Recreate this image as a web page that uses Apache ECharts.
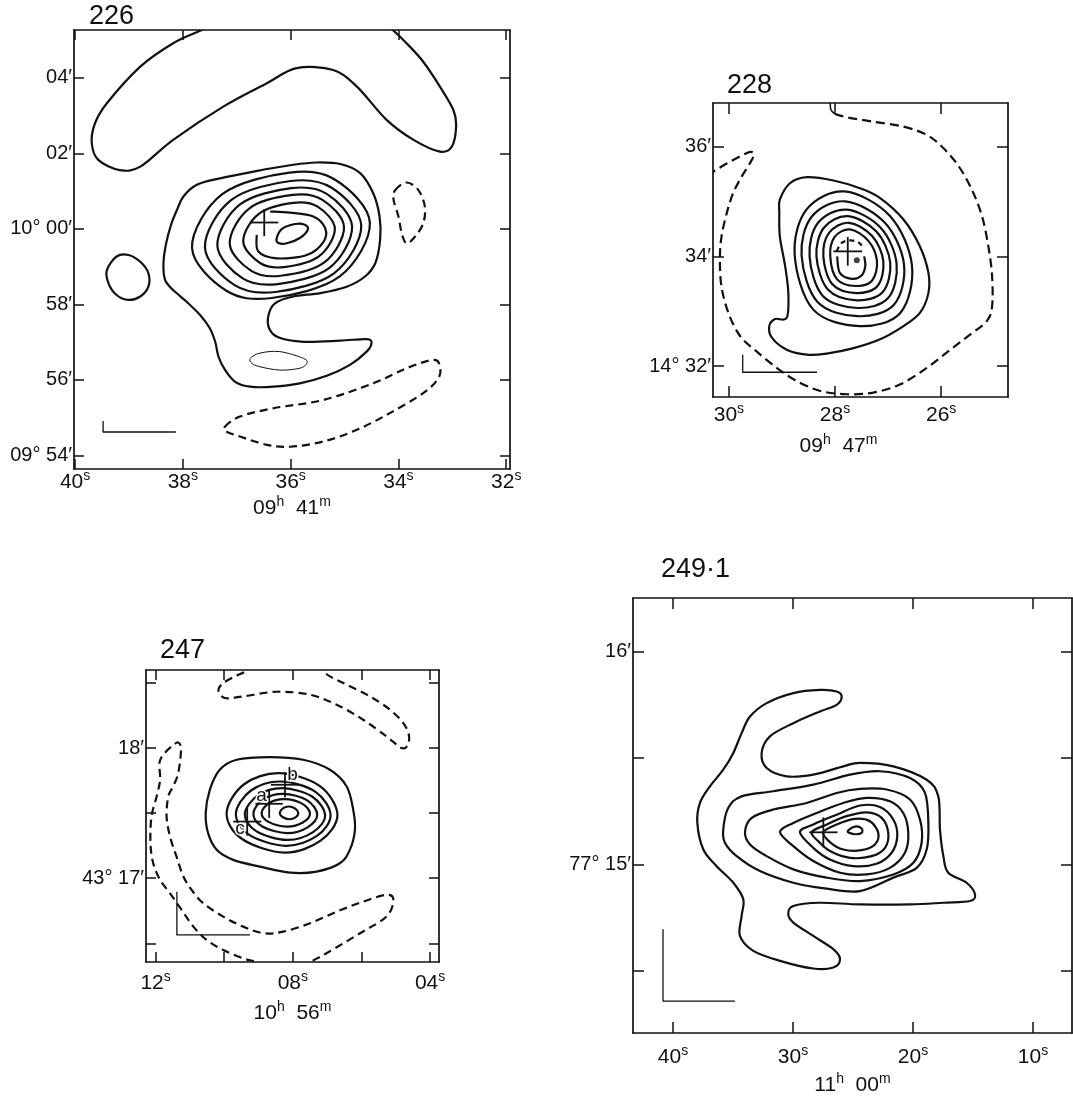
<!DOCTYPE html>
<html><head><meta charset="utf-8">
<script src="https://cdn.jsdelivr.net/npm/echarts@6/dist/echarts.min.js"></script>
<style>html,body{margin:0;padding:0;background:#fff}#c{width:1073px;height:1097px}</style>
</head><body><div id="c"></div>
<script>
// ================= DATA =================
// ---- panel 226 (RA seconds of 09h41m, Dec arcmin relative to +10°00') ----
const p226XTicks = [40, 38, 36, 34, 32];
const p226XLabels = ['40', '38', '36', '34', '32'];
const p226YTicks = [4, 2, 0, -2, -4, -6];
const p226YLabels = ['04′', '02′', '10° 00′', '58′', '56′', '09° 54′'];
const p226TopArch = [[37.45,5.42],[37.68,5.25],[38.18,4.92],[38.79,4.30],[39.41,3.33],[39.63,2.80],[39.69,2.27],[39.57,1.83],[39.17,1.56],[38.79,1.65],[38.18,2.36],[37.25,3.24],[36.44,3.86],[35.89,4.26],[35.21,4.21],[34.77,3.77],[34.22,2.89],[33.72,2.36],[33.23,2.05],[33.01,2.18],[32.93,2.71],[32.98,3.15],[33.23,3.77],[33.54,4.43],[33.85,4.92],[34.09,5.25],[34.25,5.42]];
const p226LeftLoop = [[39.41,-1.09],[39.23,-0.73],[39.01,-0.69],[38.79,-0.87],[38.64,-1.17],[38.64,-1.53],[38.79,-1.79],[39.01,-1.88],[39.23,-1.75],[39.38,-1.44]];
const p226RightNeg = [[34.06,1.03],[33.85,1.23],[33.63,1.03],[33.51,0.59],[33.54,0.15],[33.69,-0.20],[33.85,-0.38],[33.94,-0.11],[34.00,0.33],[34.09,0.77]];
const p226LowerNeg = [[37.22,-5.24],[36.94,-4.97],[36.32,-4.75],[35.39,-4.53],[34.47,-4.09],[33.85,-3.69],[33.35,-3.47],[33.23,-3.65],[33.26,-3.96],[33.54,-4.35],[34.16,-4.88],[34.77,-5.32],[35.39,-5.63],[36.01,-5.77],[36.44,-5.72],[36.94,-5.50],[37.19,-5.37]];
const p226ThinLoop = [[36.75,-3.43],[36.57,-3.29],[36.20,-3.25],[35.76,-3.43],[35.70,-3.56],[35.83,-3.69],[36.20,-3.74],[36.57,-3.65],[36.72,-3.56]];
const p226Outer = [[37.74,1.17],[37.31,1.34],[36.69,1.52],[35.95,1.70],[35.52,1.76],[35.08,1.72],[34.71,1.48],[34.47,0.95],[34.35,0.33],[34.34,-0.29],[34.43,-0.91],[34.62,-1.26],[34.96,-1.53],[35.45,-1.70],[35.95,-1.79],[36.29,-1.97],[36.41,-2.28],[36.40,-2.63],[36.23,-2.87],[35.76,-2.99],[35.08,-2.96],[34.59,-2.92],[34.50,-3.03],[34.59,-3.25],[34.90,-3.60],[35.33,-3.89],[35.83,-4.09],[36.32,-4.18],[36.75,-4.18],[37.03,-4.05],[37.22,-3.73],[37.34,-3.38],[37.40,-2.99],[37.50,-2.63],[37.68,-2.28],[37.93,-1.93],[38.18,-1.62],[38.33,-1.35],[38.36,-0.91],[38.31,-0.38],[38.21,0.15],[38.11,0.50],[37.99,0.86]];
const p226Ring6 = [[34.53,0.16],[35.16,1.29],[36.02,1.49],[37.27,0.92],[37.83,-0.50],[37.20,-1.63],[36.35,-1.83],[35.09,-1.26]];
const p226Ring5 = [[34.69,0.09],[35.24,1.09],[36.00,1.27],[37.10,0.77],[37.59,-0.49],[37.04,-1.49],[36.28,-1.67],[35.19,-1.17]];
const p226Ring4 = [[34.86,0.06],[35.33,0.93],[35.99,1.08],[36.94,0.65],[37.36,-0.44],[36.89,-1.31],[36.24,-1.46],[35.28,-1.03]];
const p226Ring3 = [[35.01,0.05],[35.41,0.77],[35.96,0.90],[36.77,0.54],[37.13,-0.39],[36.73,-1.11],[36.18,-1.24],[35.37,-0.88]];
const p226Ring2 = [[35.18,0.01],[35.50,0.59],[35.95,0.69],[36.59,0.40],[36.88,-0.33],[36.56,-0.91],[36.12,-1.01],[35.47,-0.72]];
const p226Ring1 = [[36.63,-0.16],[36.60,-0.60],[36.26,-0.78],[35.70,-0.69],[35.39,-0.34],[35.36,0.02],[35.58,0.33],[36.01,0.43],[36.38,0.46]];
const p226Peak = [[36.26,-0.25],[36.16,0.00],[35.92,0.13],[35.75,0.12],[35.68,-0.01],[35.83,-0.24],[36.07,-0.38],[36.23,-0.37]];
const p226Beam = [[39.48,-5.09],[39.48,-5.38],[38.13,-5.38]];
const p226Cross = [[36.49, 0.17, 0.26, 0.36]];

// ---- panel 228 (RA seconds of 09h47m, Dec arcmin of +14°) ----
const p228XTicks = [30, 28, 26];
const p228XLabels = ['30', '28', '26'];
const p228YTicks = [36, 34, 32];
const p228YLabels = ['36′', '34′', '14° 32′'];
const p228Neg = [[30.40,35.48],[30.28,35.55],[30.04,35.69],[29.79,35.82],[29.60,35.90],[29.53,35.85],[29.60,35.70],[29.76,35.45],[29.92,35.15],[30.04,34.79],[30.14,34.36],[30.17,33.94],[30.14,33.45],[30.01,32.97],[29.79,32.55],[29.48,32.27],[29.10,31.97],[28.72,31.73],[28.28,31.55],[27.78,31.49],[27.28,31.52],[26.77,31.67],[26.27,31.97],[25.83,32.30],[25.45,32.58],[25.14,32.82],[25.04,33.09],[25.04,33.64],[25.11,34.18],[25.23,34.73],[25.42,35.21],[25.67,35.64],[25.96,35.97],[26.27,36.21],[26.71,36.36],[27.28,36.45],[27.78,36.53],[28.00,36.59]];
const p228Hook = [[28.09,36.85],[28.08,36.67],[28.00,36.59]];
const p228Outer = [[29.04,35.03],[28.85,35.33],[28.53,35.44],[28.03,35.38],[27.53,35.24],[27.15,35.06],[26.71,34.67],[26.40,34.18],[26.24,33.70],[26.24,33.33],[26.40,32.97],[26.71,32.73],[27.15,32.49],[27.65,32.33],[28.16,32.23],[28.53,32.21],[28.91,32.30],[29.19,32.52],[29.24,32.73],[29.13,32.86],[28.91,32.88],[28.88,33.33],[28.94,33.82],[29.04,34.36],[29.05,34.79]];
const p228Ring6 = [[27.82,35.18],[26.96,34.73],[26.55,33.83],[26.77,32.97],[27.54,32.73],[28.41,33.03],[28.76,34.02],[28.54,34.85]];
const p228Ring5 = [[27.81,35.00],[27.06,34.61],[26.70,33.85],[26.89,33.12],[27.57,32.91],[28.33,33.17],[28.63,34.01],[28.44,34.72]];
const p228Ring4 = [[27.78,34.85],[27.14,34.52],[26.84,33.87],[27.00,33.24],[27.58,33.06],[28.23,33.28],[28.48,34.00],[28.32,34.61]];
const p228Ring3 = [[27.76,34.73],[27.22,34.45],[26.96,33.89],[27.10,33.35],[27.59,33.20],[28.13,33.39],[28.35,34.00],[28.21,34.52]];
const p228Ring2 = [[27.74,34.61],[27.30,34.37],[27.09,33.91],[27.20,33.46],[27.60,33.33],[28.05,33.49],[28.22,34.00],[28.11,34.43]];
const p228Ring1 = [[27.72,34.49],[27.38,34.29],[27.21,33.92],[27.30,33.56],[27.61,33.46],[27.96,33.58],[28.09,34.00],[28.01,34.35]];
const p228PeakLow = [[27.96,34.00],[27.91,33.70],[27.68,33.59],[27.50,33.65],[27.43,33.82],[27.45,34.00]];
const p228PeakTop = [[27.97,34.09],[27.88,34.24],[27.72,34.29],[27.55,34.25],[27.47,34.15]];
const p228Beam = [[29.74,32.21],[29.74,31.89],[28.34,31.89]];
const p228Cross = [[27.76, 34.09, 0.27, 0.26]];
const p228Dot = [[27.59, 33.93]];

// ---- panel 247 (RA seconds of 10h56m, Dec arcmin of +43°) ----
const p247XTicks = [12, 10, 8, 6, 4];
const p247XLabels = ['12', '', '08', '', '04'];
const p247YTicks = [18.5, 18, 17.5, 17, 16.5];
const p247YLabels = ['', '18′', '', '43° 17′', ''];
const p247TopNeg = [[9.20,18.66],[9.35,18.595],[9.69,18.551],[10.03,18.50],[10.17,18.443],[9.98,18.385],[9.45,18.397],[8.47,18.433],[7.50,18.41],[6.72,18.333],[5.95,18.218],[5.27,18.089],[4.83,18.00],[4.65,18.025],[4.62,18.102],[4.78,18.192],[5.17,18.295],[5.75,18.397],[6.43,18.487],[6.92,18.551],[7.11,18.595],[7.25,18.66]];
const p247SideNeg = [[8.85,16.30],[9.06,16.354],[9.45,16.384],[10.03,16.448],[10.51,16.525],[10.90,16.628],[11.24,16.756],[11.58,16.884],[11.87,16.987],[12.07,17.115],[12.15,17.269],[12.12,17.474],[11.97,17.628],[11.87,17.756],[11.89,17.885],[11.78,17.948],[11.53,18.013],[11.34,18.043],[11.26,17.987],[11.34,17.808],[11.49,17.705],[11.63,17.628],[11.68,17.474],[11.58,17.320],[11.39,17.166],[11.19,17.013],[10.95,16.910],[10.61,16.807],[10.03,16.705],[9.45,16.628],[8.86,16.577],[8.28,16.589],[7.50,16.654],[6.72,16.743],[5.95,16.820],[5.27,16.872],[5.07,16.833],[5.27,16.705],[6.04,16.577],[7.02,16.423],[7.50,16.354],[7.75,16.30]];
const p247Outer = [[10.13,17.833],[9.64,17.910],[8.67,17.931],[7.70,17.910],[6.92,17.833],[6.43,17.705],[6.24,17.525],[6.19,17.372],[6.34,17.218],[6.63,17.115],[7.31,17.051],[8.08,17.043],[8.96,17.089],[9.74,17.141],[10.22,17.218],[10.47,17.346],[10.54,17.500],[10.42,17.679]];
const p247Ring5 = [[8.40,17.807],[7.22,17.709],[6.70,17.487],[7.19,17.288],[8.24,17.197],[9.48,17.301],[9.93,17.502],[9.42,17.722]];
const p247Ring4 = [[8.35,17.743],[7.34,17.664],[6.90,17.484],[7.31,17.323],[8.21,17.249],[9.27,17.333],[9.66,17.496],[9.22,17.674]];
const p247Ring3 = [[8.29,17.692],[7.44,17.628],[7.06,17.483],[7.41,17.354],[8.17,17.294],[9.07,17.362],[9.40,17.493],[9.02,17.636]];
const p247Ring2 = [[8.27,17.648],[7.59,17.600],[7.29,17.489],[7.57,17.391],[8.17,17.346],[8.89,17.397],[9.15,17.497],[8.86,17.606]];
const p247Ring1 = [[8.24,17.607],[7.73,17.573],[7.50,17.497],[7.71,17.428],[8.17,17.397],[8.71,17.433],[8.91,17.502],[8.69,17.578]];
const p247Peak = [[8.12,17.551],[7.93,17.535],[7.84,17.500],[7.92,17.468],[8.10,17.453],[8.30,17.470],[8.38,17.502],[8.29,17.537]];
const p247Beam = [[11.38,16.895],[11.38,16.564],[9.25,16.564]];
const p247Cross = [[8.23,17.718,0.41,0.096],[8.69,17.572,0.40,0.108],[9.33,17.435,0.41,0.108]];
const p247Letters = ['a', 'b', 'c'];
const p247LetterPos = [[8.91,17.635],[8.01,17.795],[9.54,17.38]];

// ---- panel 249.1 (RA seconds of 11h00m, Dec arcmin of +77°) ----
const p249XTicks = [40, 30, 20, 10];
const p249XLabels = ['40', '30', '20', '10'];
const p249YTicks = [16, 15.5, 15, 14.5];
const p249YLabels = ['16′', '', '77° 15′', ''];
const p249Outer = [[25.94,15.789],[26.36,15.750],[27.75,15.719],[29.97,15.664],[31.92,15.602],[32.61,15.524],[32.19,15.453],[30.53,15.414],[28.31,15.422],[25.81,15.461],[24.42,15.477],[21.64,15.461],[18.86,15.398],[17.89,15.320],[17.75,15.164],[17.47,15.039],[17.06,14.961],[15.53,14.914],[14.83,14.859],[15.25,14.828],[17.47,14.820],[20.25,14.812],[24.42,14.812],[27.75,14.820],[29.97,14.805],[30.39,14.766],[29.97,14.727],[28.31,14.664],[26.64,14.602],[26.08,14.555],[26.64,14.516],[28.31,14.511],[31.08,14.547],[33.31,14.594],[34.42,14.664],[34.28,14.758],[34.14,14.836],[34.97,14.914],[36.36,14.992],[37.47,15.070],[37.97,15.195],[37.75,15.289],[36.92,15.367],[35.81,15.445],[34.97,15.524],[34.28,15.617],[33.58,15.695],[32.19,15.758],[29.97,15.805],[27.75,15.820],[26.36,15.813]];
const p249RingA = [[35.81,15.164],[35.39,15.266],[34.28,15.320],[31.64,15.344],[28.31,15.375],[25.25,15.422],[22.75,15.438],[20.25,15.406],[19.00,15.336],[18.72,15.195],[18.86,15.070],[19.69,14.984],[21.64,14.938],[24.42,14.875],[27.19,14.886],[29.97,14.914],[32.75,14.969],[34.69,15.039],[35.67,15.102]];
const p249RingB = [[34.00,15.152],[33.44,15.219],[31.64,15.258],[28.86,15.289],[26.36,15.336],[24.42,15.355],[22.19,15.352],[20.25,15.305],[19.42,15.211],[19.28,15.102],[19.97,15.008],[21.64,14.953],[24.42,14.922],[27.19,14.938],[29.97,14.977],[32.19,15.039],[33.58,15.094]];
const p249RingC = [[31.08,15.152],[29.97,15.195],[28.03,15.242],[25.81,15.289],[23.86,15.313],[21.92,15.297],[20.81,15.242],[20.39,15.148],[20.67,15.055],[21.92,14.984],[23.86,14.953],[26.08,14.961],[28.31,15.016],[29.97,15.086]];
const p249RingD = [[29.42,15.152],[28.31,15.188],[26.36,15.234],[24.42,15.277],[22.75,15.270],[21.64,15.211],[21.31,15.133],[21.78,15.055],[23.03,15.003],[24.97,14.992],[26.92,15.023],[28.31,15.078]];
const p249RingE = [[28.44,15.152],[27.19,15.188],[25.53,15.227],[23.86,15.245],[22.61,15.219],[22.06,15.148],[22.33,15.078],[23.44,15.039],[25.25,15.031],[26.92,15.063],[27.89,15.109]];
const p249RingF = [[27.47,15.152],[26.36,15.188],[24.83,15.214],[23.58,15.203],[22.89,15.148],[23.17,15.094],[24.28,15.067],[25.81,15.070],[26.92,15.105]];
const p249Peak = [[25.39,15.161],[24.83,15.178],[24.28,15.169],[24.28,15.148],[24.83,15.142],[25.36,15.150]];
const p249Beam = [[40.83,14.695],[40.83,14.358],[34.83,14.358]];
const p249Cross = [[27.47, 15.151, 1.18, 0.07]];

// ================= LAYOUT / STYLE =================
const F = 'Liberation Sans';
const INK = '#111';
const panels = [
  { title: '226', tl: [89, 3], grid: { left: 74, top: 30, width: 436, height: 439 },
    x: [31.93, 40.02], y: [-6.36, 5.27], xt: p226XTicks, xl: p226XLabels, yt: p226YTicks, yl: p226YLabels,
    xm: 0, nameGap: 26, name: ['09', '41'], namePadR: 0, tick: 10 },
  { title: '228', tl: [727, 72], grid: { left: 713, top: 103, width: 295, height: 294 },
    x: [24.74, 30.30], y: [31.44, 36.79], xt: p228XTicks, xl: p228XLabels, yt: p228YTicks, yl: p228YLabels,
    xm: 5, nameGap: 36, name: ['09', '47'], namePadR: 44, tick: 11 },
  { title: '247', tl: [160, 637], grid: { left: 146, top: 670, width: 293, height: 292 },
    x: [3.74, 12.28], y: [16.356, 18.60], xt: p247XTicks, xl: p247XLabels, yt: p247YTicks, yl: p247YLabels,
    xm: 8, nameGap: 38, name: ['10', '56'], namePadR: 0, tick: 10 },
  { title: '249·1', tl: [661, 556], grid: { left: 633, top: 598, width: 439, height: 436 },
    x: [6.75, 43.33], y: [14.208, 16.252], xt: p249XTicks, xl: p249XLabels, yt: p249YTicks, yl: p249YLabels,
    xm: 11, nameGap: 39, name: ['11', '00'], namePadR: 0, tick: 11 }
];

function pick(ticks, labels, v) {
  let best = 0, d = Infinity;
  ticks.forEach((t, i) => { const e = Math.abs(t - v); if (e < d) { d = e; best = i; } });
  return d < 1e-6 ? labels[best] : '';
}
const richX = {
  n: { fontSize: 21, lineHeight: 27, fontFamily: F, color: INK },
  s: { fontSize: 14, lineHeight: 14, verticalAlign: 'top', fontFamily: F, color: INK }
};

const grids = [], xAxes = [], yAxes = [], series = [];
const lineStyle = { color: INK, width: 1.7 };
panels.forEach((p, i) => {
  grids.push(p.grid);
  const tickStyle = { color: INK, width: 1.5 };
  xAxes.push({
    type: 'value', gridIndex: i, position: 'bottom', inverse: true, min: p.x[0], max: p.x[1],
    axisLine: { show: true, onZero: false, lineStyle },
    axisTick: { show: true, inside: true, length: p.tick, lineStyle: tickStyle, customValues: p.xt },
    axisLabel: { show: true, margin: p.xm, customValues: p.xt, rich: richX,
      formatter: v => { const t = pick(p.xt, p.xl, v); return t ? '{n|' + t + '}{s|s}' : ''; } },
    splitLine: { show: false },
    name: '{n|' + p.name[0] + '}{s|h}{n|  ' + p.name[1] + '}{s|m}', nameLocation: 'middle', nameGap: p.nameGap,
    nameTextStyle: { rich: richX, padding: [0, p.namePadR, 0, 0] }
  });
  xAxes.push({
    type: 'value', gridIndex: i, position: 'top', inverse: true, min: p.x[0], max: p.x[1],
    axisLine: { show: true, onZero: false, lineStyle },
    axisTick: { show: true, inside: true, length: p.tick, lineStyle: tickStyle, customValues: p.xt },
    axisLabel: { show: false }, splitLine: { show: false }
  });
  yAxes.push({
    type: 'value', gridIndex: i, position: 'left', min: p.y[0], max: p.y[1],
    axisLine: { show: true, onZero: false, lineStyle },
    axisTick: { show: true, inside: true, length: p.tick, lineStyle: tickStyle, customValues: p.yt },
    axisLabel: { show: true, margin: 2, customValues: p.yt, fontSize: 20, fontFamily: F, color: INK,
      formatter: v => pick(p.yt, p.yl, v) },
    splitLine: { show: false }
  });
  yAxes.push({
    type: 'value', gridIndex: i, position: 'right', min: p.y[0], max: p.y[1],
    axisLine: { show: true, onZero: false, lineStyle },
    axisTick: { show: true, inside: true, length: p.tick, lineStyle: tickStyle, customValues: p.yt },
    axisLabel: { show: false }, splitLine: { show: false }
  });
});

// Catmull-Rom curve through the projected points (drawing only)
function curvePath(pts, closed, straight) {
  const n = pts.length;
  const f = q => q[0].toFixed(2) + ' ' + q[1].toFixed(2);
  let d = 'M' + f(pts[0]);
  if (straight) { for (let i = 1; i < n; i++) d += ' L' + f(pts[i]); return d; }
  const P = i => closed ? pts[(i + n) % n] : pts[Math.max(0, Math.min(n - 1, i))];
  const segs = closed ? n : n - 1;
  for (let i = 0; i < segs; i++) {
    const p0 = P(i - 1), p1 = P(i), p2 = P(i + 1), p3 = P(i + 2);
    const c1 = [p1[0] + (p2[0] - p0[0]) / 6, p1[1] + (p2[1] - p0[1]) / 6];
    const c2 = [p2[0] - (p3[0] - p1[0]) / 6, p2[1] - (p3[1] - p1[1]) / 6];
    d += ' C' + f(c1) + ' ' + f(c2) + ' ' + f(p2);
  }
  if (closed) d += ' Z';
  return d;
}
function curves(pi, items) {
  return {
    type: 'custom', coordinateSystem: 'cartesian2d', xAxisIndex: 2 * pi, yAxisIndex: 2 * pi,
    clip: true, silent: true, animation: false,
    data: items.map(it => it.pts[0].slice()),
    renderItem: (params, api) => {
      const it = items[params.dataIndex];
      const pts = it.pts.map(q => api.coord(q));
      return {
        type: 'path',
        shape: { pathData: curvePath(pts, !!it.closed, !!it.straight) },
        style: { fill: 'none', stroke: INK, lineWidth: it.w || 2.2, lineDash: it.dash || null,
          lineJoin: 'round', lineCap: 'butt' }
      };
    }
  };
}
function crosses(pi, list) {
  return {
    type: 'custom', coordinateSystem: 'cartesian2d', xAxisIndex: 2 * pi, yAxisIndex: 2 * pi,
    silent: true, animation: false,
    data: list.map(c => [c[0], c[1]]),
    renderItem: (params, api) => {
      const c = list[params.dataIndex];
      const a = api.coord([c[0] - c[2], c[1]]), b = api.coord([c[0] + c[2], c[1]]);
      const u = api.coord([c[0], c[1] - c[3]]), d = api.coord([c[0], c[1] + c[3]]);
      const st = { stroke: INK, lineWidth: 1.8 };
      return { type: 'group', children: [
        { type: 'line', shape: { x1: a[0], y1: a[1], x2: b[0], y2: b[1] }, style: st },
        { type: 'line', shape: { x1: u[0], y1: u[1], x2: d[0], y2: d[1] }, style: st }
      ] };
    }
  };
}
const DASH = [8, 5];
series.push(curves(0, [
  { pts: p226TopArch }, { pts: p226LeftLoop, closed: true }, { pts: p226RightNeg, closed: true, dash: DASH },
  { pts: p226LowerNeg, closed: true, dash: DASH }, { pts: p226ThinLoop, closed: true, w: 1 },
  { pts: p226Outer, closed: true }, { pts: p226Ring6, closed: true }, { pts: p226Ring5, closed: true },
  { pts: p226Ring4, closed: true }, { pts: p226Ring3, closed: true }, { pts: p226Ring2, closed: true },
  { pts: p226Ring1 }, { pts: p226Peak, closed: true },
  { pts: p226Beam, straight: true, w: 1.3 }
]));
series.push(crosses(0, p226Cross));

series.push(curves(1, [
  { pts: p228Neg, dash: [9, 5] }, { pts: p228Hook, w: 1.5 }, { pts: p228Outer, closed: true },
  { pts: p228Ring6, closed: true }, { pts: p228Ring5, closed: true }, { pts: p228Ring4, closed: true },
  { pts: p228Ring3, closed: true }, { pts: p228Ring2, closed: true }, { pts: p228Ring1, closed: true },
  { pts: p228PeakLow }, { pts: p228PeakTop, dash: [5, 4] },
  { pts: p228Beam, straight: true, w: 1.3 }
]));
series.push(crosses(1, p228Cross));
series.push({ type: 'scatter', xAxisIndex: 2, yAxisIndex: 2, data: p228Dot, symbolSize: 6,
  itemStyle: { color: INK }, silent: true, animation: false });

series.push(curves(2, [
  { pts: p247TopNeg, dash: DASH }, { pts: p247SideNeg, dash: DASH }, { pts: p247Outer, closed: true },
  { pts: p247Ring5, closed: true }, { pts: p247Ring4, closed: true }, { pts: p247Ring3, closed: true },
  { pts: p247Ring2, closed: true }, { pts: p247Ring1, closed: true }, { pts: p247Peak, closed: true },
  { pts: p247Beam, straight: true, w: 1.3 }
]));
series.push(crosses(2, p247Cross));
series.push({
  type: 'custom', coordinateSystem: 'cartesian2d', xAxisIndex: 4, yAxisIndex: 4, silent: true, animation: false,
  data: p247LetterPos,
  renderItem: (params, api) => {
    const pt = api.coord(p247LetterPos[params.dataIndex]);
    return { type: 'text', x: pt[0], y: pt[1], style: { text: p247Letters[params.dataIndex],
      font: '19px "' + F + '"', fill: INK, align: 'center', verticalAlign: 'middle',
      stroke: '#fff', lineWidth: 3 } };
  }
});

series.push(curves(3, [
  { pts: p249Outer, closed: true }, { pts: p249RingA, closed: true }, { pts: p249RingB, closed: true },
  { pts: p249RingC, closed: true }, { pts: p249RingD, closed: true }, { pts: p249RingE, closed: true },
  { pts: p249RingF, closed: true }, { pts: p249Peak, closed: true },
  { pts: p249Beam, straight: true, w: 1.3 }
]));
series.push(crosses(3, p249Cross));

const chart = echarts.init(document.getElementById('c'), null, { renderer: 'canvas' });
chart.setOption({
  animation: false,
  backgroundColor: '#fff',
  title: panels.map(p => ({ text: p.title, left: p.tl[0], top: p.tl[1], padding: 0,
    textStyle: { fontSize: 27, fontWeight: 'normal', fontFamily: F, color: INK } })),
  grid: grids, xAxis: xAxes, yAxis: yAxes, series: series
});
</script></body></html>
